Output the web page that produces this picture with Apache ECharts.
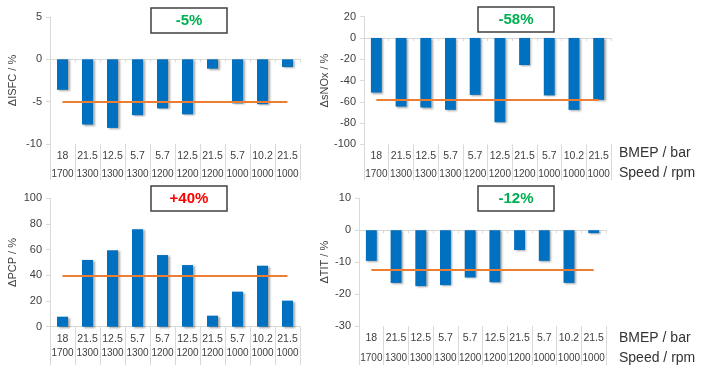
<meta charset="utf-8">
<script src="https://cdn.jsdelivr.net/npm/echarts/dist/echarts.min.js"></script>
<div id="main" style="position:absolute;left:0;top:0;width:709px;height:365px"></div>
<script>
// operating points
const bmep=['18','21.5','12.5','5.7','5.7','12.5','21.5','5.7','10.2','21.5']
const speed=['1700','1300','1300','1300','1200','1200','1200','1000','1000','1000']
// relative changes, %
const isfc=[-3.6,-7.7,-8.1,-6.6,-5.8,-6.5,-1.1,-5.2,-5.3,-0.9]
const nox=[-51.3,-64.5,-65.4,-67.6,-53.5,-79.2,-25.5,-54,-67.6,-58.2]
const pcp=[7.8,52,59.5,75.8,55.8,48,8.6,27.3,47.5,20.3]
const tit=[-9.6,-16.5,-17.5,-17.2,-14.8,-16.3,-6.2,-9.6,-16.5,-0.9]
// mean lines and boxed tags
const means=[-5,-58.5,40,-12.3]
const tags=['-5%','-58%','+40%','-12%']
const tagColors=['#00B050','#00B050','#FF0000','#00B050']
const yNames=['ΔISFC / %','ΔsNOx / %','ΔPCP / %','ΔTIT / %']
const yRanges=[[-10,5,5],[-100,20,20],[0,100,20],[-30,10,10]]

const FONT='"Liberation Sans", Arial, sans-serif'
const cats=bmep.map((b,i)=>b+'|'+speed[i])

const panels=[
  {data:isfc, left:50, top:17, width:250, height:127, gap:32, row:18, tick:36, box:[151,8]},
  {data:nox, left:364, top:16.7, width:247, height:127.6, gap:34, row:18, tick:36, box:[478,7]},
  {data:pcp, left:50, top:198.3, width:250, height:128.4, gap:32, row:15, tick:40, box:[151,186]},
  {data:tit, left:359, top:198.3, width:247, height:127.7, gap:29, row:20, tick:40, box:[478,186]},
]

const grid=[], xAxis=[], yAxis=[], series=[], graphic=[]
panels.forEach((p,i)=>{
  const [mn,mx,st]=yRanges[i]
  grid.push({left:p.left, top:p.top, width:p.width, height:p.height, outerBoundsMode:'none'})
  yAxis.push({
    gridIndex:i, type:'value', min:mn, max:mx, interval:st,
    name:yNames[i], nameLocation:'middle', nameGap:p.gap,
    nameTextStyle:{fontSize:11, color:'#404040', fontFamily:FONT},
    axisLine:{show:true, lineStyle:{color:'#d9d9d9'}},
    axisTick:{show:true, length:4, lineStyle:{color:'#d9d9d9'}},
    axisLabel:{fontSize:11, color:'#404040', margin:8, fontFamily:FONT},
    splitLine:{show:false}
  })
  const xi=xAxis.length
  xAxis.push({
    gridIndex:i, type:'category', data:cats, position:'bottom',
    axisLine:{show:mn===0, onZero:false, lineStyle:{color:'#d9d9d9'}},
    axisTick:{show:true, length:p.tick, interval:0, lineStyle:{color:'#d9d9d9'}},
    axisLabel:{interval:0, margin:12-p.row/2, fontFamily:FONT,
      formatter:(v,k)=>'{a|'+bmep[k]+'}\n{b|'+speed[k]+'}',
      rich:{a:{fontSize:10.5, lineHeight:p.row, color:'#404040', fontFamily:FONT},
            b:{fontSize:10, lineHeight:p.row, color:'#404040', fontFamily:FONT}}}
  })
  if(mn<0){
    // zero line, like the excel category axis crossing at 0
    xAxis.push({
      gridIndex:i, type:'category', data:cats, position:'bottom',
      axisLine:{show:true, onZero:true, lineStyle:{color:'#d9d9d9'}},
      axisTick:{show:true, length:3, interval:0, lineStyle:{color:'#d9d9d9'}},
      axisLabel:{show:false}
    })
  }
  series.push({
    type:'bar', xAxisIndex:xi, yAxisIndex:i, data:p.data, barWidth:'44%',
    itemStyle:{color:'#0070C0', shadowColor:'rgba(0,0,0,0.35)', shadowBlur:2, shadowOffsetX:1.5, shadowOffsetY:1},
    markLine:{silent:true, symbol:['none','none'], label:{show:false},
      lineStyle:{color:'#ED7D31', width:2, type:'solid'},
      data:[[{coord:[0,means[i]]},{coord:[cats.length-1,means[i]]}]]}
  })
  const [bx,by]=p.box
  graphic.push({type:'rect', shape:{x:bx, y:by, width:76, height:25},
    style:{fill:'#fff', stroke:'#404040', lineWidth:1.5}, z:10})
  graphic.push({type:'text', x:bx+38, y:by+12.5, z:11,
    style:{text:tags[i], fill:tagColors[i], font:'bold 15px '+FONT,
      align:'center', verticalAlign:'middle', textAlign:'center', textVerticalAlign:'middle'}})
})

// row titles to the right of the right-hand panels
;[[146,166],[331,351]].forEach(([y1,y2])=>{
  graphic.push({type:'text', left:619, top:y1, style:{text:'BMEP / bar', font:'14px '+FONT, fill:'#333'}})
  graphic.push({type:'text', left:619, top:y2, style:{text:'Speed / rpm', font:'14px '+FONT, fill:'#333'}})
})

const myChart=echarts.init(main)
myChart.setOption({
  backgroundColor:'#fff',
  animation:false,
  textStyle:{fontFamily:FONT},
  grid, xAxis, yAxis, series, graphic
})
</script>
